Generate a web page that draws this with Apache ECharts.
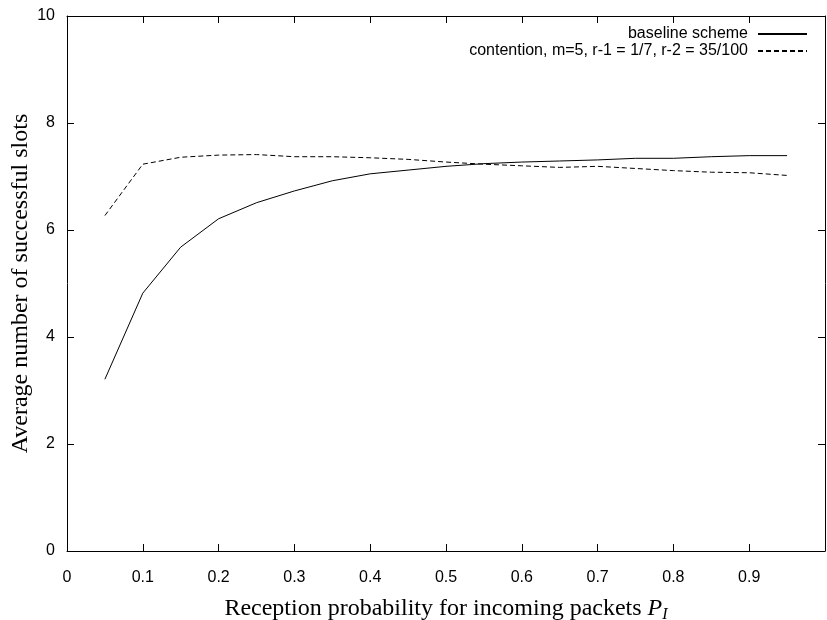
<!DOCTYPE html>
<html>
<head>
<meta charset="utf-8">
<script src="https://cdn.jsdelivr.net/npm/echarts@6/dist/echarts.min.js"></script>
<style>
html,body{margin:0;padding:0;background:#fff;}
#chart{width:827px;height:620px;}
</style>
</head>
<body>
<div id="chart"></div>
<script>
var xValues = [0.05,0.1,0.15,0.2,0.25,0.3,0.35,0.4,0.45,0.5,0.55,0.6,0.65,0.7,0.75,0.8,0.85,0.9,0.95];
var baseline = [3.21,4.82,5.68,6.21,6.51,6.73,6.92,7.05,7.12,7.19,7.24,7.27,7.29,7.31,7.34,7.34,7.37,7.39,7.39];
var contention = [6.27,7.23,7.36,7.40,7.41,7.37,7.37,7.35,7.32,7.27,7.23,7.20,7.17,7.19,7.15,7.11,7.08,7.07,7.02];
var seriesNames = ['baseline scheme', 'contention, m=5, r-1 = 1/7, r-2 = 35/100'];
var xTicks = [0,0.1,0.2,0.3,0.4,0.5,0.6,0.7,0.8,0.9,1];
var yTicks = [0,2,4,6,8,10];

function pairs(xs, ys){ return xs.map(function(x,i){ return [x, ys[i]]; }); }

var chart = echarts.init(document.getElementById('chart'), null, {renderer:'canvas'});
var sans = 'Liberation Sans, Arial, Helvetica, sans-serif';
var serif = 'Liberation Serif, Times New Roman, serif';
var TICK = 7;
function axisLine(){ return {show:true, onZero:false, lineStyle:{color:'#000', width:1}}; }
function noTick(){ return {show:false}; }
// Inward ticks: extra axes shifted into the plot, with outward ticks reaching the frame.
function tickOnly(){ return {show:true, inside:false, length:TICK, lineStyle:{color:'#000', width:1}}; }
function hiddenLine(){ return {show:true, onZero:false, lineStyle:{color:'rgba(0,0,0,0)', width:1}}; }
function tickAxisX(pos){
  return {type:'value', min:0, max:1, interval:0.1, position:pos, offset:-TICK,
    axisLine:hiddenLine(), axisTick:tickOnly(), splitLine:{show:false}, axisLabel:{show:false}};
}
function tickAxisY(pos){
  return {type:'value', min:0, max:10, interval:2, position:pos, offset:-TICK,
    axisLine:hiddenLine(), axisTick:tickOnly(), splitLine:{show:false}, axisLabel:{show:false}};
}

chart.setOption({
  animation:false,
  backgroundColor:'#fff',
  grid:{left:67, right:2, top:16, bottom:69, containLabel:false, outerBoundsMode:'none'},
  legend:{
    show:true, orient:'vertical', right:14, top:21, align:'right',
    itemWidth:49, itemHeight:14, itemGap:1,
    itemStyle:{color:'rgba(0,0,0,0)', borderWidth:0, opacity:0},
    textStyle:{fontFamily:sans, fontSize:16, color:'#000', padding:[0,5,0,0]},
    data:[seriesNames[0], seriesNames[1]]
  },
  xAxis:[{
    type:'value', min:0, max:1, interval:0.1, position:'bottom',
    axisLine:axisLine(), axisTick:noTick(), splitLine:{show:false},
    axisLabel:{color:'#000', fontFamily:sans, fontSize:16, margin:19, showMaxLabel:false,
      formatter:function(v){ var i = xTicks.findIndex(function(t){return Math.abs(t-v)<1e-9;}); return i>=0 ? String(xTicks[i]) : ''; }},
    name:'{a|Reception probability for incoming packets }{p|P}{s|I}',
    nameLocation:'middle', nameGap:44, nameMoveOverlap:false,
    nameTextStyle:{
      rich:{
        a:{fontFamily:serif, fontSize:24, color:'#000', lineHeight:28, verticalAlign:'middle'},
        p:{fontFamily:serif, fontSize:24, fontStyle:'italic', color:'#000', lineHeight:28, verticalAlign:'middle'},
        s:{fontFamily:serif, fontSize:16, fontStyle:'italic', color:'#000', lineHeight:16, padding:[12,0,0,0], verticalAlign:'middle'}
      }
    }
  },{
    type:'value', min:0, max:1, interval:0.1, position:'top',
    axisLine:axisLine(), axisTick:noTick(), splitLine:{show:false}, axisLabel:{show:false}
  }, tickAxisX('bottom'), tickAxisX('top')],
  yAxis:[{
    type:'value', min:0, max:10, interval:2, position:'left',
    axisLine:axisLine(), axisTick:noTick(), splitLine:{show:false},
    axisLabel:{color:'#000', fontFamily:sans, fontSize:16, margin:12,
      formatter:function(v){ return yTicks.indexOf(v)>=0 ? String(v) : ''; }},
    name:'Average number of successful slots', nameLocation:'middle', nameGap:34, nameMoveOverlap:false,
    nameTextStyle:{fontFamily:serif, fontSize:24, color:'#000'}
  },{
    type:'value', min:0, max:10, interval:2, position:'right',
    axisLine:axisLine(), axisTick:noTick(), splitLine:{show:false}, axisLabel:{show:false}
  }, tickAxisY('left'), tickAxisY('right')],
  series:[
    {name:seriesNames[0], type:'line', xAxisIndex:0, yAxisIndex:0, data:pairs(xValues, baseline),
     symbol:'none', lineStyle:{color:'#000', width:1, type:'solid'}, itemStyle:{color:'#000'}},
    {name:seriesNames[1], type:'line', xAxisIndex:0, yAxisIndex:0, data:pairs(xValues, contention),
     symbol:'none', lineStyle:{color:'#000', width:1, type:[5,3]}, itemStyle:{color:'#000'}}
  ]
});
</script>
</body>
</html>
